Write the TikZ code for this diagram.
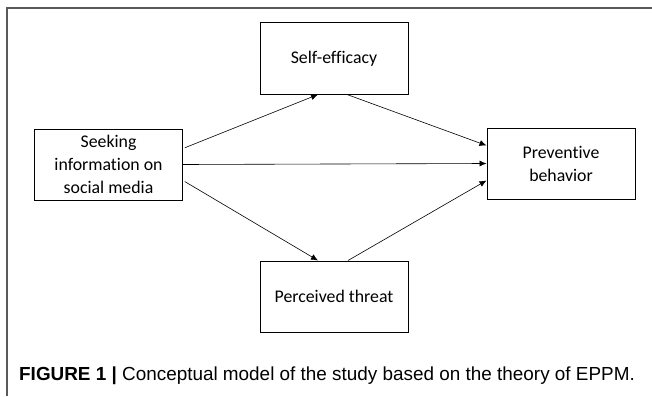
\documentclass[tikz,border=0pt]{standalone}
\usepackage{fontspec}
\setmainfont[Ligatures={NoCommon}]{Carlito}
\newfontfamily\capfont{Liberation Sans}
\usepackage{tikz}
\usetikzlibrary{arrows.meta}

\begin{document}
\begin{tikzpicture}[x=1pt, y=-1pt, >={Latex[length=7pt,width=6pt]},
	box/.style={draw, rectangle, line width=1pt, minimum width=148pt, minimum height=71pt,
		align=center, font=\fontsize{17.8}{23}\selectfont},
	link/.style={->, line width=0.6pt}]
			\useasboundingbox (0,0) rectangle (652,396);
			\draw[gray!70!black, line width=1.3pt] (7,396) -- (7,8) -- (652,8);
		
			\node[box] (seek) at (108.5,164.5) {Seeking\\information on\\social media};
			\node[box] (self) at (334,58.5) {Self-efficacy};
			\node[box] (prev) at (561,163.5) {Preventive\\behavior};
			\node[box] (perc) at (334,296.5) {Perceived threat};
		
			\draw[link, shorten <=2pt] ([yshift=16pt]seek.east) to ([xshift=-16pt]self.south);
			\draw[link] ([xshift=13pt]self.south) to ([yshift=18pt]prev.west);
			\draw[link] (seek.east) to (prev.west);
			\draw[link, shorten <=2pt] ([yshift=-16pt]seek.east) to ([xshift=-16pt]perc.north);
			\draw[link] ([xshift=14pt]perc.north) to ([yshift=-17pt]prev.west);
		
			\node[anchor=west, inner sep=0pt, font=\capfont\fontsize{18.9}{22}\selectfont] (cap) at (19,376)
				{\textbf{FIGURE 1 |} Conceptual model of the study based on the theory of EPPM.};
		\end{tikzpicture}
\end{document}
